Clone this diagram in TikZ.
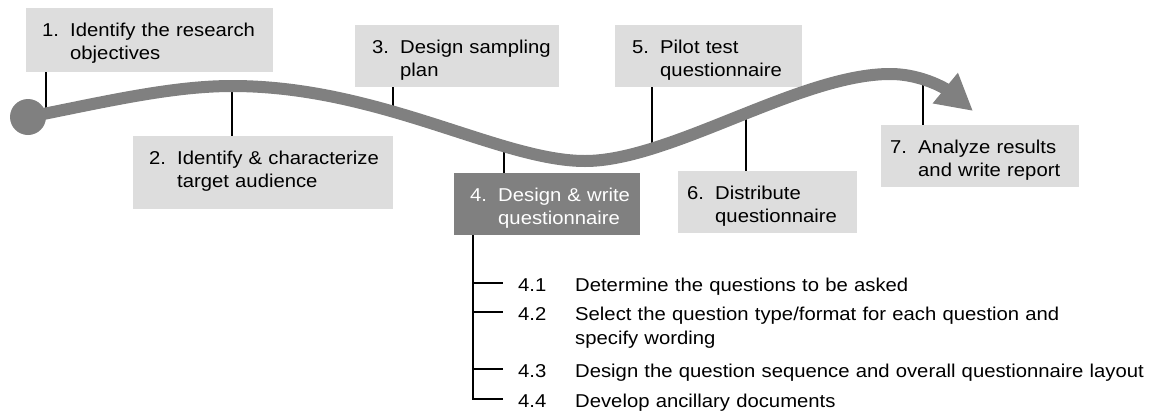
\documentclass[tikz,border=0pt]{standalone}
\usepackage{fontspec}
\setmainfont{Liberation Sans}[FakeStretch=1.09]
\usetikzlibrary{arrows.meta}
\definecolor{stepfill}{RGB}{221,221,221}
\definecolor{flowgray}{RGB}{128,128,128}
\newcommand{\steplabel}[3]{\makebox[28pt][l]{#1}\mbox{#2}\\\hspace*{28pt}\mbox{#3}}
\newcommand{\subnum}[1]{\makebox[57pt][l]{#1}}
\begin{document}
\begin{tikzpicture}[x=1pt, y=-1pt, font=\fontsize{18.6}{23}\selectfont,
  stepbox/.style={fill=stepfill, anchor=north west, align=left, inner ysep=0pt, inner xsep=16pt, text height=28pt, text depth=34pt},
  pin/.style={line width=1.4pt},
  substep/.style={anchor=base west, align=left, inner sep=0pt, text width=630pt}]
\useasboundingbox (0,0) rectangle (1155,413);

% steps above and below the path
\node[stepbox, text width=215pt, text depth=36pt] (b1) at (26,8) {\steplabel{1.}{Identify the research}{objectives}};
\node[stepbox, text width=228pt, text depth=45pt] (b2) at (133,136) {\steplabel{2.}{Identify \& characterize}{target audience}};
\node[stepbox, inner xsep=17pt, text width=170pt] (b3) at (355,25) {\steplabel{3.}{Design sampling}{plan}};
\node[stepbox, fill=flowgray, text=white, text width=154pt] (b4) at (454,173) {\steplabel{4.}{Design \& write}{questionnaire}};
\node[stepbox, inner xsep=17pt, text width=153pt] (b5) at (615,25) {\steplabel{5.}{Pilot test}{questionnaire}};
\node[stepbox, inner xsep=9pt, text width=161pt] (b6) at (678,171) {\steplabel{6.}{Distribute}{questionnaire}};
\node[stepbox, inner xsep=9pt, text width=180pt] (b7) at (881,125) {\steplabel{7.}{Analyze results}{and write report}};

% sub steps of 4
\node[substep] (s41) at (518,291) {\subnum{4.1}\mbox{Determine the questions to be asked}};
\node[substep] (s42) at (518,320) {\subnum{4.2}\mbox{Select the question type/format for each question and}\\[1.5pt]\hspace*{57pt}\mbox{specify wording}};
\node[substep] (s43) at (518,377) {\subnum{4.3}\mbox{Design the question sequence and overall questionnaire layout}};
\node[substep] (s44) at (518,407) {\subnum{4.4}\mbox{Develop ancillary documents}};

\coordinate (trunk) at ([xshift=19pt]b4.south west);
\foreach \s in {s41,s42,s43}
  \draw[pin] ([yshift=8pt]\s.base west -| trunk) -- ([xshift=-15pt,yshift=8pt]\s.base west);
\draw[pin] (trunk) |- ([xshift=-15pt,yshift=8pt]s44.base west);

% points on the path
\coordinate (c1) at (46,113);
\coordinate (c2) at (232,86);
\coordinate (c3) at (393,114);
\coordinate (c4) at (504,149);
\coordinate (c5) at (652,151);
\coordinate (c6) at (746,116);
\coordinate (c7) at (923,80);

\draw[pin] (b1.south -| c1) -- (c1);
\draw[pin] (c2) -- (c2 |- b2.north);
\draw[pin] (b3.south -| c3) -- (c3);
\draw[pin] (c4) -- (c4 |- b4.north);
\draw[pin] (b5.south -| c5) -- (c5);
\draw[pin] (c6) -- (c6 |- b6.north);
\draw[pin] (c7) -- (c7 |- b7.north);

% the path itself
\draw[flowgray, line width=12pt, -{Triangle[length=36pt,width=37pt]}] (28,117) .. controls (100,103) and (170,86) .. (232,86)
  .. controls (380,86) and (500,161) .. (585,161)
  .. controls (670,161) and (800,74) .. (890,74)
  .. controls (925,74) and (950,92) .. (973,111);
\fill[flowgray] (28,117) circle[radius=18];
\end{tikzpicture}
\end{document}
